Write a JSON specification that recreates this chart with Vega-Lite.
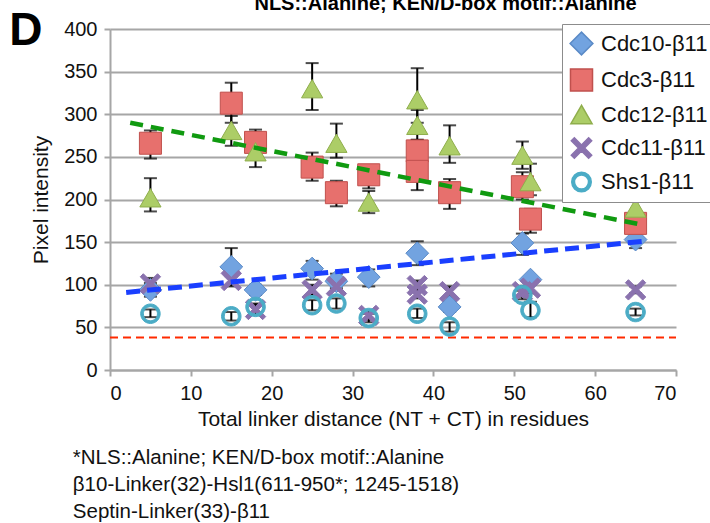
{
  "$schema": "https://vega.github.io/schema/vega-lite/v6.json",
  "width": 566,
  "height": 341,
  "autosize": "none",
  "padding": {"left": 110, "top": 29, "right": 34, "bottom": 153},
  "background": "white",
  "config": {"font": "Liberation Sans", "view": {"stroke": null}},
  "datasets": {
    "pts": [
      {"s": "Cdc10-β11", "x": 5, "y": 94, "lo": 86, "hi": 102},
      {"s": "Cdc10-β11", "x": 15, "y": 121, "lo": 110, "hi": 143},
      {"s": "Cdc10-β11", "x": 18, "y": 94, "lo": 88, "hi": 100},
      {"s": "Cdc10-β11", "x": 25, "y": 119, "lo": 106, "hi": 128},
      {"s": "Cdc10-β11", "x": 28, "y": 104, "lo": 96, "hi": 113},
      {"s": "Cdc10-β11", "x": 32, "y": 109, "lo": 98, "hi": 118},
      {"s": "Cdc10-β11", "x": 38, "y": 137, "lo": 123, "hi": 151},
      {"s": "Cdc10-β11", "x": 42, "y": 74, "lo": 68, "hi": 80},
      {"s": "Cdc10-β11", "x": 51, "y": 149, "lo": 135, "hi": 160},
      {"s": "Cdc10-β11", "x": 52, "y": 106, "lo": 100, "hi": 110},
      {"s": "Cdc10-β11", "x": 65, "y": 153, "lo": 143, "hi": 163},
      {"s": "Cdc3-β11", "x": 5, "y": 266, "lo": 248, "hi": 281},
      {"s": "Cdc3-β11", "x": 15, "y": 313, "lo": 290, "hi": 337},
      {"s": "Cdc3-β11", "x": 18, "y": 267, "lo": 250, "hi": 282},
      {"s": "Cdc3-β11", "x": 25, "y": 238, "lo": 222, "hi": 255},
      {"s": "Cdc3-β11", "x": 28, "y": 208, "lo": 192, "hi": 222},
      {"s": "Cdc3-β11", "x": 32, "y": 229, "lo": 213, "hi": 240},
      {"s": "Cdc3-β11", "x": 38, "y": 257, "lo": 245, "hi": 270},
      {"s": "Cdc3-β11", "x": 38, "y": 233, "lo": 211, "hi": 245},
      {"s": "Cdc3-β11", "x": 42, "y": 208, "lo": 189, "hi": 224},
      {"s": "Cdc3-β11", "x": 51, "y": 215, "lo": 200, "hi": 232},
      {"s": "Cdc3-β11", "x": 52, "y": 177, "lo": 161, "hi": 189},
      {"s": "Cdc3-β11", "x": 65, "y": 172, "lo": 160, "hi": 185},
      {"s": "Cdc12-β11", "x": 5, "y": 202, "lo": 186, "hi": 225},
      {"s": "Cdc12-β11", "x": 15, "y": 281, "lo": 263, "hi": 298},
      {"s": "Cdc12-β11", "x": 18, "y": 256, "lo": 238, "hi": 270},
      {"s": "Cdc12-β11", "x": 25, "y": 330, "lo": 305, "hi": 360},
      {"s": "Cdc12-β11", "x": 28, "y": 266, "lo": 249, "hi": 289},
      {"s": "Cdc12-β11", "x": 32, "y": 197, "lo": 184, "hi": 210},
      {"s": "Cdc12-β11", "x": 38, "y": 317, "lo": 290, "hi": 354},
      {"s": "Cdc12-β11", "x": 38, "y": 287, "lo": 270, "hi": 305},
      {"s": "Cdc12-β11", "x": 42, "y": 263, "lo": 243, "hi": 287},
      {"s": "Cdc12-β11", "x": 51, "y": 252, "lo": 236, "hi": 268},
      {"s": "Cdc12-β11", "x": 52, "y": 221, "lo": 205, "hi": 242},
      {"s": "Cdc12-β11", "x": 65, "y": 190, "lo": 178, "hi": 203},
      {"s": "Cdc11-β11", "x": 5, "y": 101, "lo": 95, "hi": 108},
      {"s": "Cdc11-β11", "x": 15, "y": 105, "lo": 98, "hi": 111},
      {"s": "Cdc11-β11", "x": 18, "y": 71, "lo": 65, "hi": 77},
      {"s": "Cdc11-β11", "x": 25, "y": 94, "lo": 88, "hi": 100},
      {"s": "Cdc11-β11", "x": 28, "y": 98, "lo": 93, "hi": 104},
      {"s": "Cdc11-β11", "x": 32, "y": 64, "lo": 59, "hi": 69},
      {"s": "Cdc11-β11", "x": 38, "y": 99, "lo": 94, "hi": 105},
      {"s": "Cdc11-β11", "x": 38, "y": 89, "lo": 84, "hi": 94},
      {"s": "Cdc11-β11", "x": 42, "y": 92, "lo": 86, "hi": 98},
      {"s": "Cdc11-β11", "x": 51, "y": 92, "lo": 86, "hi": 98},
      {"s": "Cdc11-β11", "x": 52, "y": 96, "lo": 90, "hi": 102},
      {"s": "Cdc11-β11", "x": 65, "y": 94, "lo": 90, "hi": 98},
      {"s": "Shs1-β11", "x": 5, "y": 66, "lo": 62, "hi": 71},
      {"s": "Shs1-β11", "x": 15, "y": 63, "lo": 58, "hi": 68},
      {"s": "Shs1-β11", "x": 18, "y": 74, "lo": 68, "hi": 78},
      {"s": "Shs1-β11", "x": 25, "y": 76, "lo": 70, "hi": 82},
      {"s": "Shs1-β11", "x": 28, "y": 78, "lo": 72, "hi": 84},
      {"s": "Shs1-β11", "x": 32, "y": 61, "lo": 56, "hi": 66},
      {"s": "Shs1-β11", "x": 38, "y": 66, "lo": 61, "hi": 72},
      {"s": "Shs1-β11", "x": 42, "y": 51, "lo": 45, "hi": 56},
      {"s": "Shs1-β11", "x": 51, "y": 88, "lo": 83, "hi": 93},
      {"s": "Shs1-β11", "x": 52, "y": 70, "lo": 62, "hi": 80},
      {"s": "Shs1-β11", "x": 65, "y": 68, "lo": 64, "hi": 72}
    ]
  },
  "layer": [
    {
      "data": {"values": [{"x": 0, "y": 38}, {"x": 70, "y": 38}]},
      "mark": {"type": "line", "color": "#FF2A00", "strokeWidth": 2, "strokeDash": [8, 5]},
      "encoding": {
        "x": {"field": "x", "type": "quantitative", "scale": {"domain": [0, 70], "nice": false},
          "axis": {"values": [0, 10, 20, 30, 40, 50, 60, 70], "grid": false, "title": "Total linker distance (NT + CT) in residues",
            "domainColor": "#A6A6A6", "domainWidth": 2, "tickColor": "#A6A6A6", "tickWidth": 2, "tickSize": 6,
            "labelFontSize": 20, "labelColor": "#111111", "labelPadding": 7, "titleFontSize": 21, "titleFontWeight": "normal", "titleColor": "#111111", "titlePadding": 5}},
        "y": {"field": "y", "type": "quantitative", "scale": {"domain": [0, 400], "nice": false},
          "axis": {"values": [0, 50, 100, 150, 200, 250, 300, 350, 400], "grid": true, "gridColor": "#A6A6A6", "gridWidth": 2, "title": "Pixel intensity",
            "domainColor": "#A6A6A6", "domainWidth": 2, "tickColor": "#A6A6A6", "tickWidth": 2, "tickSize": 6,
            "labelFontSize": 20, "labelColor": "#111111", "labelPadding": 7, "titleFontSize": 21, "titleFontWeight": "normal", "titleColor": "#111111", "titlePadding": 12}}
      }
    },
    {
      "data": {"name": "pts"},
      "mark": {"type": "rule", "color": "#000000", "strokeWidth": 2},
      "encoding": {
        "x": {"field": "x", "type": "quantitative"},
        "y": {"field": "lo", "type": "quantitative"},
        "y2": {"field": "hi"}
      }
    },
    {
      "data": {"name": "pts"},
      "mark": {"type": "tick", "orient": "horizontal", "color": "#000000", "size": 13, "thickness": 2},
      "encoding": {
        "x": {"field": "x", "type": "quantitative"},
        "y": {"field": "lo", "type": "quantitative"}
      }
    },
    {
      "data": {"name": "pts"},
      "mark": {"type": "tick", "orient": "horizontal", "color": "#000000", "size": 13, "thickness": 2},
      "encoding": {
        "x": {"field": "x", "type": "quantitative"},
        "y": {"field": "hi", "type": "quantitative"}
      }
    },
    {
      "data": {"name": "pts"},
      "mark": {"type": "point", "filled": true, "opacity": 1, "strokeWidth": 1},
      "encoding": {
        "x": {"field": "x", "type": "quantitative"},
        "y": {"field": "y", "type": "quantitative"},
        "shape": {"field": "s", "type": "nominal", "title": null,
          "scale": {"domain": ["Cdc10-β11", "Cdc3-β11", "Cdc12-β11", "Cdc11-β11", "Shs1-β11"],
            "range": ["diamond", "square", "triangle-up",
              "M0,-0.3L0.7,-1L1,-0.7L0.3,0L1,0.7L0.7,1L0,0.3L-0.7,1L-1,0.7L-0.3,0L-1,-0.7L-0.7,-1Z",
              "M1,0A1,1 0 1,1 -1,0A1,1 0 1,1 1,0Z M0.72,0A0.72,0.72 0 1,0 -0.72,0A0.72,0.72 0 1,0 0.72,0Z"]},
          "legend": {"orient": "none", "legendX": 452, "legendY": -5, "padding": 7, "rowPadding": 7, "strokeColor": "#8C8C8C", "fillColor": "#FFFFFF",
            "labelFontSize": 22, "labelColor": "#111111", "labelOffset": 7, "labelFont": "Liberation Sans"}},
        "fill": {"field": "s", "type": "nominal", "title": null,
          "scale": {"domain": ["Cdc10-β11", "Cdc3-β11", "Cdc12-β11", "Cdc11-β11", "Shs1-β11"],
            "range": ["#72A3E0", "#E7706D", "#ACCD67", "#8A72AE", "#4BACC6"]}},
        "stroke": {"field": "s", "type": "nominal", "title": null,
          "scale": {"domain": ["Cdc10-β11", "Cdc3-β11", "Cdc12-β11", "Cdc11-β11", "Shs1-β11"],
            "range": ["#5A8AC6", "#C0504D", "#8FAE4C", "#8A72AE", "#4BACC6"]}},
        "size": {"field": "s", "type": "nominal", "title": null,
          "scale": {"domain": ["Cdc10-β11", "Cdc3-β11", "Cdc12-β11", "Cdc11-β11", "Shs1-β11"],
            "range": [520, 380, 560, 330, 460]}}
      }
    },
    {
      "data": {"values": [{"x": 2.5, "y": 290}, {"x": 66, "y": 170}]},
      "mark": {"type": "line", "color": "#109A10", "strokeWidth": 4.5, "strokeDash": [13, 8]},
      "encoding": {
        "x": {"field": "x", "type": "quantitative"},
        "y": {"field": "y", "type": "quantitative"}
      }
    },
    {
      "data": {"values": [{"x": 2, "y": 91}, {"x": 66, "y": 151}]},
      "mark": {"type": "line", "color": "#1A3FFF", "strokeWidth": 5, "strokeDash": [14, 7]},
      "encoding": {
        "x": {"field": "x", "type": "quantitative"},
        "y": {"field": "y", "type": "quantitative"}
      }
    },
    {
      "data": {"values": [{"t": "NLS::Alanine; KEN/D-box motif::Alanine"}]},
      "mark": {"type": "text", "fontSize": 20, "fontWeight": "bold", "align": "center", "baseline": "alphabetic", "color": "#000000"},
      "encoding": {
        "x": {"datum": 41.5, "type": "quantitative"},
        "y": {"datum": 422, "type": "quantitative"},
        "text": {"field": "t"}
      }
    },
    {
      "data": {"values": [{"t": "D"}]},
      "mark": {"type": "text", "fontSize": 46, "fontWeight": "bold", "align": "center", "baseline": "alphabetic", "color": "#000000"},
      "encoding": {
        "x": {"datum": -10.4, "type": "quantitative"},
        "y": {"datum": 381, "type": "quantitative"},
        "text": {"field": "t"}
      }
    },
    {
      "data": {"values": [{"t": "*NLS::Alanine; KEN/D-box motif::Alanine"}, {"t": "β10-Linker(32)-Hsl1(611-950*; 1245-1518)"}, {"t": "Septin-Linker(33)-β11"}]},
      "transform": [{"aggregate": [{"op": "values", "field": "t", "as": "v"}]}, {"calculate": "pluck(datum.v, 't')", "as": "lines"}],
      "mark": {"type": "text", "fontSize": 20.5, "align": "left", "baseline": "middle", "lineHeight": 27, "color": "#111111"},
      "encoding": {
        "x": {"datum": -4.6, "type": "quantitative"},
        "y": {"datum": -103, "type": "quantitative"},
        "text": {"field": "lines"}
      }
    }
  ]
}
